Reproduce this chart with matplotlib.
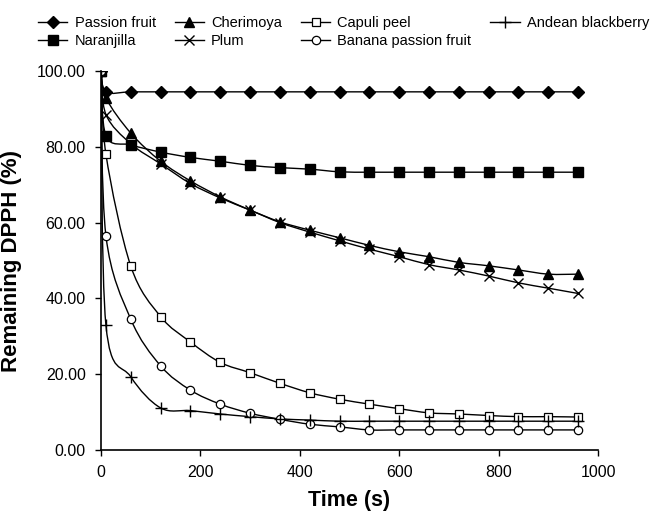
import numpy as np
import matplotlib
matplotlib.use("Agg")
import matplotlib.pyplot as plt
from matplotlib.path import Path
from matplotlib.patches import PathPatch
from matplotlib.lines import Line2D
from matplotlib.ticker import FormatStrFormatter

# sampling times (s)
time_s = [0, 10, 60, 120, 180, 240, 300, 360, 420, 480, 540, 600, 660, 720, 780, 840, 900, 960]

# remaining DPPH (%)
passion_fruit = [100, 94.5, 94.5, 94.5, 94.5, 94.5, 94.5, 94.5, 94.5, 94.5, 94.5, 94.5, 94.5, 94.5, 94.5, 94.5, 94.5, 94.5]
naranjilla = [100, 82.9, 80.5, 78.6, 77.2, 76.2, 75.1, 74.5, 74.1, 73.4, 73.3, 73.3, 73.3, 73.3, 73.3, 73.3, 73.3, 73.3]
cherimoya = [100, 92.9, 83.6, 76.2, 71.0, 66.8, 63.3, 60.2, 58.0, 56.0, 54.0, 52.3, 51.0, 49.5, 48.6, 47.5, 46.4, 46.4]
plum = [100, 88.5, 80.8, 75.5, 70.3, 66.5, 63.3, 60.0, 57.5, 55.2, 53.0, 51.0, 48.9, 47.5, 45.9, 44.1, 42.7, 41.3]
capuli_peel = [100, 78.0, 48.5, 35.2, 28.5, 23.1, 20.4, 17.6, 15.1, 13.4, 12.1, 10.9, 9.8, 9.5, 9.1, 8.8, 8.8, 8.7]
banana_passion = [100, 56.5, 34.5, 22.2, 15.8, 12.1, 9.7, 8.1, 6.8, 6.1, 5.3, 5.3, 5.3, 5.3, 5.3, 5.3, 5.3, 5.3]
andean_blackberry = [100, 32.9, 19.3, 11.1, 10.4, 9.5, 8.8, 8.2, 7.9, 7.6, 7.6, 7.6, 7.6, 7.6, 7.6, 7.6, 7.6, 7.6]

plt.rcParams["font.family"] = ["Liberation Sans", "DejaVu Sans"]


def smooth_path(x, y):
    # spreadsheet-style smoothed line: cubic Bezier through every point
    p = np.column_stack([x, y]).astype(float)
    verts = [p[0]]
    codes = [Path.MOVETO]
    n = len(p)
    for i in range(n - 1):
        p_prev = p[max(i - 1, 0)]
        p_next = p[min(i + 2, n - 1)]
        c1 = p[i] + (p[i + 1] - p_prev) / 6.0
        c2 = p[i + 1] - (p_next - p[i]) / 6.0
        verts += [c1, c2, p[i + 1]]
        codes += [Path.CURVE4] * 3
    return Path(verts, codes)


fig = plt.figure(figsize=(6.57, 5.13), dpi=100)
ax = fig.add_axes([0.1537, 0.1228, 0.7565, 0.7388])

lw = 1.0
series = [
    ("Passion fruit", passion_fruit, dict(marker="D", ms=6, mfc="k")),
    ("Naranjilla", naranjilla, dict(marker="s", ms=6.5, mfc="k")),
    ("Cherimoya", cherimoya, dict(marker="^", ms=7, mfc="k")),
    ("Plum", plum, dict(marker="x", ms=7, mew=1.0)),
    ("Capuli peel", capuli_peel, dict(marker="s", ms=6, mfc="white", mew=0.9)),
    ("Banana passion fruit", banana_passion, dict(marker="o", ms=6, mfc="white", mew=0.9)),
    ("Andean blackberry", andean_blackberry, dict(marker="+", ms=9, mew=1.0)),
]

handles = []
for name, vals, style in series:
    ax.add_patch(PathPatch(smooth_path(time_s, vals), fill=False, ec="k", lw=lw, zorder=2))
    ax.plot(time_s, vals, ls="none", color="k", zorder=3, **style)
    handles.append(Line2D([], [], color="k", lw=lw, **style))

ax.set_xlim(0, 1000)
ax.set_ylim(0, 100)
ax.set_xticks(np.arange(0, 1001, 200))
ax.set_yticks(np.arange(0, 101, 20))
ax.yaxis.set_major_formatter(FormatStrFormatter("%.2f"))
ax.spines["top"].set_visible(False)
ax.spines["right"].set_visible(False)
ax.spines["left"].set_linewidth(1.2)
ax.spines["bottom"].set_linewidth(1.2)
ax.tick_params(direction="out", length=4, width=1.0, labelsize=11.5, pad=7)
ax.set_xlabel("Time (s)", fontsize=15.5, fontweight="bold", labelpad=7)
ax.set_ylabel("Remaining DPPH (%)", fontsize=16, fontweight="bold", labelpad=11)

fig.legend(handles, [s[0] for s in series], loc="upper left",
           bbox_to_anchor=(0.058, 0.968), ncol=4, frameon=False,
           fontsize=10.5, handlelength=2.0, handletextpad=0.5, columnspacing=1.3,
           labelspacing=0.28, borderpad=0, borderaxespad=0)

fig.savefig("out.png", dpi=100)
